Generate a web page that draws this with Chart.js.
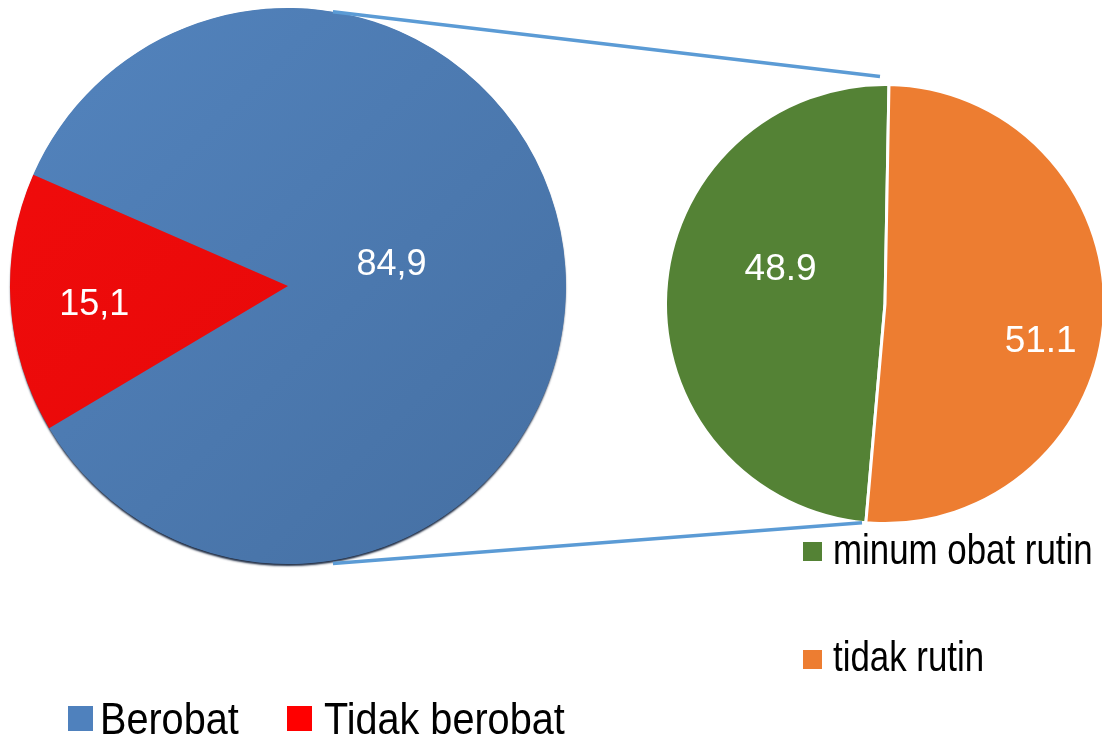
<!DOCTYPE html>
<html>
<head>
<meta charset="utf-8">
<script src="https://cdn.jsdelivr.net/npm/chart.js@4.4.0/dist/chart.umd.min.js"></script>
<style>
html,body{margin:0;padding:0;background:#fff;overflow:hidden;}
#stage{position:relative;width:1102px;height:741px;overflow:hidden;background:#fff;}
#stage canvas{position:absolute;left:0;top:0;}
.lgText{position:absolute;font-family:"Liberation Sans",Arial,sans-serif;color:#000;white-space:nowrap;line-height:1;transform-origin:0 0;}
.lgBox{position:absolute;}
</style>
</head>
<body>
<div id="stage">
  <canvas id="mainPie" width="1102" height="741"></canvas>
  <canvas id="subPie" width="1110" height="741"></canvas>
  <div id="legends"></div>
</div>
<script>
// ---------- DATA ----------
const mainCategories = ['Berobat', 'Tidak berobat'];
const mainValues = [84.9, 15.1];
const subCategories = ['minum obat rutin', 'tidak rutin'];
const subValues = [48.9, 51.1];

// ---------- STYLE ----------
const mainColors = [['#5384BE', '#456FA2'], ['#F20C0C', '#E20707']];
const mainLegendColors = ['#4F81BD', '#FF0000'];
const subColors = ['#548235', '#ED7D31'];
const connectorColor = '#5B9BD5';

function mainFill(c) {
  const pair = mainColors[c.dataIndex] || mainColors[0];
  const chart = c.chart, a = chart.chartArea;
  if (!a) return pair[0];
  const g = chart.ctx.createLinearGradient(a.left, a.top, a.right, a.bottom);
  g.addColorStop(0, pair[0]);
  g.addColorStop(1, pair[1]);
  return g;
}

function makeLabels(format, place, font) {
  return {
    id: 'sliceLabels',
    afterDatasetsDraw(chart) {
      const meta = chart.getDatasetMeta(0);
      const ctx = chart.ctx;
      const vals = chart.data.datasets[0].data;
      ctx.save();
      ctx.font = font;
      ctx.fillStyle = '#ffffff';
      ctx.textAlign = 'center';
      ctx.textBaseline = 'middle';
      meta.data.forEach((arc, i) => {
        const p = arc.getProps(['x', 'y', 'startAngle', 'endAngle', 'outerRadius'], true);
        const ang = (p.startAngle + p.endAngle) / 2 + place[i].turn * Math.PI / 180;
        const d = p.outerRadius * place[i].dist;
        ctx.fillText(format(vals[i]), p.x + Math.cos(ang) * d, p.y + Math.sin(ang) * d);
      });
      ctx.restore();
    }
  };
}

const rimShadow = {
  id: 'rimShadow',
  beforeDatasetsDraw(chart) {
    const arc = chart.getDatasetMeta(0).data[0];
    if (!arc) return;
    const p = arc.getProps(['x', 'y', 'outerRadius'], true);
    const ctx = chart.ctx;
    ctx.save();
    ctx.beginPath();
    ctx.arc(p.x, p.y, p.outerRadius - 0.5, 0, Math.PI * 2);
    ctx.shadowColor = 'rgba(22,36,60,0.95)';
    ctx.shadowOffsetY = 2.5;
    ctx.shadowBlur = 2;
    ctx.fillStyle = '#4A78AE';
    ctx.fill();
    ctx.restore();
  }
};

const mainChart = new Chart(document.getElementById('mainPie'), {
  type: 'pie',
  data: {
    labels: mainCategories,
    datasets: [{
      data: mainValues,
      backgroundColor: mainFill,
      borderWidth: 0
    }]
  },
  options: {
    responsive: false,
    animation: false,
    rotation: -66.4,
    layout: { padding: { left: 10, top: 8, right: 536, bottom: 177 } },
    plugins: { legend: { display: false }, tooltip: { enabled: false } }
  },
  plugins: [rimShadow, makeLabels(v => v.toFixed(1).replace('.', ','),
    [{ dist: 0.38, turn: -8 }, { dist: 0.70, turn: -2 }], '36px "Liberation Sans", Arial, sans-serif')]
});

const connectors = {
  id: 'connectors',
  afterDraw(chart) {
    const m = mainChart.getDatasetMeta(0).data[0];
    const s = chart.getDatasetMeta(0).data[0];
    if (!m || !s) return;
    const mp = m.getProps(['x', 'y', 'outerRadius'], true);
    const sp = s.getProps(['x', 'y', 'startAngle', 'endAngle', 'outerRadius'], true);
    const rad = Math.PI / 180;
    const pt = (cx, cy, r, a) => [cx + Math.cos(a) * r, cy + Math.sin(a) * r];
    const lt = pt(mp.x, mp.y, mp.outerRadius, -80.7 * rad);
    const lb = pt(mp.x, mp.y, mp.outerRadius + 3, 80.8 * rad);
    const rt = pt(sp.x, sp.y, sp.outerRadius + 8, sp.endAngle - 2.3 * rad);
    const rb = pt(sp.x, sp.y, sp.outerRadius + 0.5, sp.startAngle + 1 * rad);
    const ctx = chart.ctx;
    ctx.save();
    ctx.strokeStyle = connectorColor;
    ctx.lineWidth = 3.5;
    ctx.beginPath();
    ctx.moveTo(lt[0], lt[1]); ctx.lineTo(rt[0], rt[1]);
    ctx.moveTo(lb[0], lb[1]); ctx.lineTo(rb[0], rb[1]);
    ctx.stroke();
    ctx.restore();
  }
};

const subChart = new Chart(document.getElementById('subPie'), {
  type: 'pie',
  data: {
    labels: subCategories,
    datasets: [{
      data: subValues,
      backgroundColor: subColors,
      borderColor: '#ffffff',
      borderWidth: 3
    }]
  },
  options: {
    responsive: false,
    animation: false,
    rotation: 185,
    layout: { padding: { left: 664, top: 83, right: 4, bottom: 216 } },
    plugins: { legend: { display: false }, tooltip: { enabled: false } }
  },
  plugins: [makeLabels(v => v.toFixed(1),
    [{ dist: 0.50, turn: 14.9 }, { dist: 0.73, turn: 10.7 }], '37px "Liberation Sans", Arial, sans-serif'), connectors]
});

// ---------- LEGENDS (HTML, built from the category arrays) ----------
const legendLayout = [
  { cats: mainCategories, colors: mainLegendColors, font: 44, scale: 0.9, box: 25,
    items: [{ bx: 68, by: 706, tx: 100, ty: 697 }, { bx: 287, by: 706, tx: 324, ty: 697 }] },
  { cats: subCategories, colors: subColors, font: 42, scale: 0.83, box: 19,
    items: [{ bx: 803, by: 542, tx: 833, ty: 529 }, { bx: 803, by: 650, tx: 833, ty: 636 }] }
];
const lgRoot = document.getElementById('legends');
legendLayout.forEach(L => {
  L.cats.forEach((name, i) => {
    const it = L.items[i];
    const b = document.createElement('div');
    b.className = 'lgBox';
    b.style.cssText = `left:${it.bx}px;top:${it.by}px;width:${L.box}px;height:${L.box}px;background:${L.colors[i]};`;
    lgRoot.appendChild(b);
    const t = document.createElement('div');
    t.className = 'lgText';
    t.textContent = name;
    t.style.cssText = `left:${it.tx}px;top:${it.ty}px;font-size:${L.font}px;transform:scaleX(${L.scale});`;
    lgRoot.appendChild(t);
  });
});
</script>
</body>
</html>
